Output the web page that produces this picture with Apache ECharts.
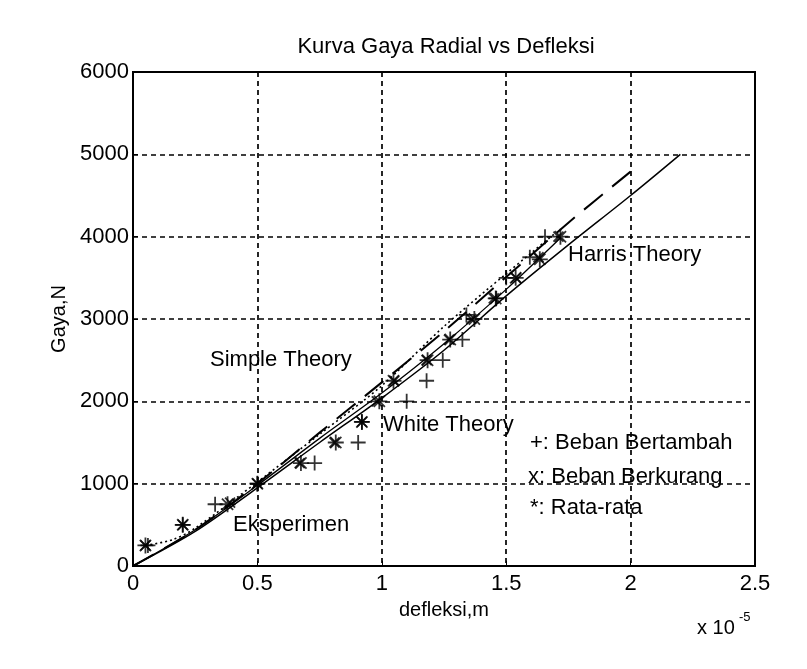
<!DOCTYPE html>
<html>
<head>
<meta charset="utf-8">
<script src="https://cdn.jsdelivr.net/npm/echarts@6/dist/echarts.min.js"></script>
<style>
  html, body { margin: 0; padding: 0; background: #fff; }
  #chart { width: 807px; height: 669px; }
</style>
</head>
<body>
<div id="chart"></div>
<script>
// sumbu x dalam satuan 1e-5 m
var xTicks = [0, 0.5, 1, 1.5, 2, 2.5];
var yTicks = [0, 1000, 2000, 3000, 4000, 5000, 6000];

// Simple Theory (putus-putus)
var simpleX = [0, 0.25, 0.5, 0.75, 1.0, 1.25, 1.5, 1.75, 2.0];
var simpleY = [0, 440, 1000, 1620, 2230, 2850, 3510, 4170, 4790];

// White Theory (titik-titik)
var whiteX = [0.05, 0.16, 0.25, 0.5, 0.75, 1.0, 1.25, 1.5, 1.7];
var whiteY = [250, 320, 460, 1020, 1600, 2190, 2910, 3550, 4050];

// Harris Theory (garis penuh, sampai 5000)
var harrisX = [0, 0.25, 0.5, 0.75, 1.0, 1.25, 1.5, 1.75, 2.0, 2.2];
var harrisY = [0, 420, 950, 1500, 2040, 2620, 3280, 3900, 4500, 5000];

// garis penuh kedua (eksperimen)
var eksX = [0, 0.25, 0.5, 0.75, 1.0, 1.25, 1.5, 1.72];
var eksY = [0, 440, 980, 1550, 2100, 2700, 3360, 3990];

// +: beban bertambah
var bertambahX = [0.06, 0.2, 0.33, 0.5, 0.73, 0.905, 0.92, 1.10, 1.18, 1.245, 1.324, 1.34, 1.46, 1.50, 1.595, 1.656];
var bertambahY = [250, 500, 750, 1000, 1250, 1500, 1750, 2000, 2250, 2500, 2750, 3050, 3250, 3500, 3750, 4000];

// x: beban berkurang
var berkurangX = [0.05, 0.2, 0.39, 0.5, 0.67, 0.81, 0.92, 0.98, 1.05, 1.18, 1.27, 1.36, 1.45, 1.54, 1.63, 1.71];
var berkurangY = [250, 500, 770, 1000, 1250, 1500, 1750, 2000, 2250, 2500, 2750, 3000, 3250, 3500, 3750, 4000];

// *: rata-rata
var rataX = [0.05, 0.2, 0.38, 0.5, 0.675, 0.815, 0.92, 0.99, 1.047, 1.184, 1.275, 1.372, 1.458, 1.538, 1.635, 1.718];
var rataY = [250, 500, 750, 1000, 1250, 1500, 1750, 2000, 2250, 2500, 2750, 3000, 3250, 3500, 3725, 4000];

function pairs(xs, ys) {
    return xs.map(function (x, i) { return [x, ys[i]]; });
}

var FONT = 'Liberation Sans';
var plusPath = 'path://M5,0L5,10M0,5L10,5';
var crossPath = 'path://M0,0L10,10M0,10L10,0';
var starPath = 'path://M5,0L5,10M0,5L10,5M1.5,1.5L8.5,8.5M1.5,8.5L8.5,1.5';

var chart = echarts.init(document.getElementById('chart'));

var markerStyle = { color: 'none', borderColor: '#000', borderWidth: 1.8 };

function txt(x, y, s, size) {
    return { type: 'text', x: x, y: y, style: { text: s, fill: '#000', font: size + 'px ' + FONT, verticalAlign: 'middle' } };
}

var option = {
    animation: false,
    backgroundColor: '#fff',
    grid: {
        left: 133, right: 52, top: 72, bottom: 103,
        show: true, borderColor: '#000', borderWidth: 2, backgroundColor: 'transparent'
    },
    xAxis: {
        type: 'value',
        min: xTicks[0], max: xTicks[xTicks.length - 1], interval: 0.5,
        name: 'defleksi,m', nameLocation: 'middle', nameGap: 34,
        nameTextStyle: { color: '#000', fontFamily: FONT, fontSize: 20 },
        axisLine: { show: true, onZero: false, lineStyle: { color: '#000', width: 2 } },
        axisTick: { show: true, inside: true, length: 5, lineStyle: { color: '#000' } },
        axisLabel: { color: '#000', fontFamily: FONT, fontSize: 22, margin: 7 },
        splitLine: { show: true, lineStyle: { color: '#000', width: 1.7, type: [5, 4] } }
    },
    yAxis: {
        type: 'value',
        min: yTicks[0], max: yTicks[yTicks.length - 1], interval: 1000,
        name: 'Gaya,N', nameLocation: 'middle', nameGap: 60,
        nameTextStyle: { color: '#000', fontFamily: FONT, fontSize: 20 },
        axisLine: { show: true, onZero: false, lineStyle: { color: '#000', width: 2 } },
        axisTick: { show: true, inside: true, length: 5, lineStyle: { color: '#000' } },
        axisLabel: { color: '#000', fontFamily: FONT, fontSize: 22, margin: 4,
            formatter: function (v) { return String(v); } },
        splitLine: { show: true, lineStyle: { color: '#000', width: 1.7, type: [5, 4] } }
    },
    series: [
        {
            name: 'Simple Theory', type: 'line', data: pairs(simpleX, simpleY),
            showSymbol: false, symbol: 'none', smooth: 0.3,
            lineStyle: { color: '#000', width: 2, type: [24, 12] }
        },
        {
            name: 'White Theory', type: 'line', data: pairs(whiteX, whiteY),
            showSymbol: false, symbol: 'none', smooth: 0.3,
            lineStyle: { color: '#000', width: 1.6, type: [2, 3] }
        },
        {
            name: 'Harris Theory', type: 'line', data: pairs(harrisX, harrisY),
            showSymbol: false, symbol: 'none', smooth: 0.3,
            lineStyle: { color: '#000', width: 1.5 }
        },
        {
            name: 'Eksperimen', type: 'line', data: pairs(eksX, eksY),
            showSymbol: false, symbol: 'none', smooth: 0.3,
            lineStyle: { color: '#000', width: 1.3 }
        },
        {
            name: 'Beban Bertambah', type: 'scatter', data: pairs(bertambahX, bertambahY),
            symbol: plusPath, symbolSize: 15, itemStyle: markerStyle
        },
        {
            name: 'Beban Berkurang', type: 'scatter', data: pairs(berkurangX, berkurangY),
            symbol: crossPath, symbolSize: 10, itemStyle: markerStyle
        },
        {
            name: 'Rata-rata', type: 'scatter', data: pairs(rataX, rataY),
            symbol: starPath, symbolSize: 16, itemStyle: markerStyle
        }
    ],
    graphic: [
        { type: 'text', x: 446, y: 47, style: { text: 'Kurva Gaya Radial vs Defleksi', fill: '#000', font: '22px ' + FONT, align: 'center', verticalAlign: 'middle' } },
        txt(210, 360, 'Simple Theory', 22),
        txt(383, 425, 'White Theory', 22),
        txt(568, 255, 'Harris Theory', 22),
        txt(233, 525, 'Eksperimen', 22),
        txt(530, 443, '+: Beban Bertambah', 22),
        txt(528, 477, 'x: Beban Berkurang', 22),
        txt(530, 508, '*: Rata-rata', 22),
        txt(697, 628, 'x 10', 20),
        txt(739, 617, '-5', 13)
    ]
};

chart.setOption(option);
</script>
</body>
</html>
